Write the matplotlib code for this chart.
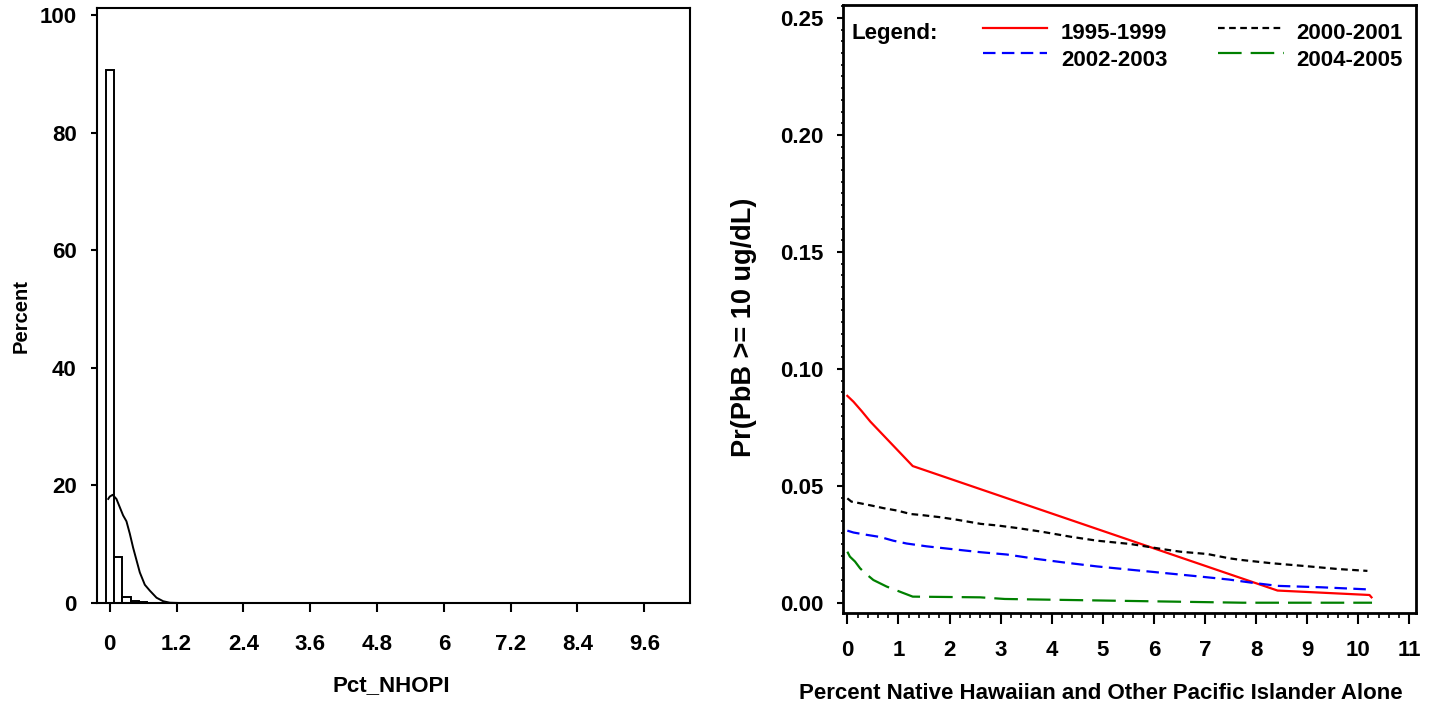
import matplotlib.pyplot as plt
from matplotlib.lines import Line2D
from matplotlib.ticker import MultipleLocator

plt.rcParams['font.family'] = ['Liberation Sans', 'DejaVu Sans']
plt.rcParams['font.weight'] = 'bold'
plt.rcParams['axes.labelweight'] = 'bold'
plt.rcParams['lines.scale_dashes'] = False

# histogram of Pct_NHOPI (bin midpoints, percent of tracts)
bin_mid = [0.0, 0.15, 0.30, 0.45, 0.60, 0.75, 10.2]
bin_pct = [90.6, 7.8, 1.0, 0.35, 0.12, 0.05, 0.05]
bin_width = 0.15

# kernel density overlay
dens_x = [-0.027, 0.0, 0.052, 0.12, 0.18, 0.24, 0.30, 0.36, 0.42, 0.48,
          0.54, 0.63, 0.72, 0.84, 0.96, 1.08, 1.26, 10.3]
dens_y = [17.7, 18.1, 18.4, 17.7, 16.3, 14.9, 13.9, 11.8, 9.4, 7.3,
          5.2, 3.1, 2.1, 0.9, 0.3, 0.05, 0.0, 0.0]

hist_xticks = [0, 1.2, 2.4, 3.6, 4.8, 6, 7.2, 8.4, 9.6]
hist_xlabels = ['0', '1.2', '2.4', '3.6', '4.8', '6', '7.2', '8.4', '9.6']
hist_yticks = [0, 20, 40, 60, 80, 100]

# predicted Pr(PbB >= 10) by period
p9599_x = [0.0, 0.12, 0.28, 0.45, 1.28, 8.42, 10.22, 10.26]
p9599_y = [0.0885, 0.086, 0.082, 0.0775, 0.0585, 0.0053, 0.0034, 0.0024]

p0001_x = [0.0, 0.08, 0.25, 0.5, 0.71, 0.97, 1.24, 1.44, 1.83, 2.16, 2.61,
           2.94, 3.33, 3.79, 4.37, 4.89, 5.54, 6.2, 6.52, 7.05, 7.47, 7.7,
           8.29, 8.94, 9.6, 10.18]
p0001_y = [0.0447, 0.0433, 0.0426, 0.0415, 0.0405, 0.0395, 0.038, 0.0376,
           0.0366, 0.0355, 0.0338, 0.0331, 0.032, 0.0305, 0.0283, 0.0266,
           0.0252, 0.0229, 0.0219, 0.0209, 0.0191, 0.0184, 0.017, 0.0158,
           0.0145, 0.0137]

p0203_x = [0.0, 0.12, 0.38, 0.64, 0.9, 1.16, 1.55, 2.01, 2.6, 3.12, 3.71,
           4.24, 4.89, 5.54, 6.2, 6.85, 7.47, 7.9, 8.42, 9.27, 10.18]
p0203_y = [0.0309, 0.0301, 0.0291, 0.0282, 0.0266, 0.0254, 0.0242, 0.0231,
           0.0217, 0.0207, 0.0188, 0.0173, 0.0156, 0.0142, 0.0128, 0.0114,
           0.0100, 0.0087, 0.0073, 0.0067, 0.0058]

p0405_x = [0.0, 0.05, 0.15, 0.25, 0.35, 0.51, 0.77, 1.03, 1.28, 2.6, 3.08,
           5.39, 7.74, 10.27]
p0405_y = [0.0219, 0.0198, 0.0177, 0.0148, 0.0127, 0.0098, 0.007, 0.0048,
           0.0027, 0.0024, 0.0017, 0.0009, 0.0001, 0.0001]

periods = ['1995-1999', '2000-2001', '2002-2003', '2004-2005']
colors = ['red', 'black', 'blue', 'green']
dash_styles = [None, (4.8, 3.2), (9.0, 4.6), (17, 6.5)]

prob_xticks = list(range(0, 12))
prob_yticks = [0.0, 0.05, 0.10, 0.15, 0.20, 0.25]

fs = 16

fig = plt.figure(figsize=(14.32, 7.10), dpi=100)

# ---- left: histogram ----
ax1 = fig.add_axes([0.0675, 0.1507, 0.4143, 0.838])
ax1.bar(bin_mid, bin_pct, width=bin_width, facecolor='white',
        edgecolor='black', linewidth=1.4)
ax1.plot(dens_x, dens_y, color='black', linewidth=1.4)
ax1.set_xlim(-0.235, 10.42)
ax1.set_ylim(0, 101.2)
ax1.set_xticks(hist_xticks)
ax1.set_xticklabels(hist_xlabels)
ax1.set_yticks(hist_yticks)
ax1.tick_params(axis='x', length=6.5, width=1.5, pad=15.5, labelsize=fs)
ax1.tick_params(axis='y', length=4.3, width=1.5, pad=10, labelsize=fs)
for s in ax1.spines.values():
    s.set_linewidth(1.5)
ax1.set_xlabel('Pct_NHOPI', fontsize=fs)
ax1.set_ylabel('Percent', fontsize=14.5)
ax1.xaxis.set_label_coords(0.496, -0.1216)
ax1.yaxis.set_label_coords(-0.111, 0.482)

# ---- right: predicted probabilities ----
ax2 = fig.add_axes([0.5885, 0.1366, 0.4003, 0.8563])
series = [(p9599_x, p9599_y), (p0001_x, p0001_y),
          (p0203_x, p0203_y), (p0405_x, p0405_y)]
for (xs, ys), c, d in zip(series, colors, dash_styles):
    if d is None:
        ax2.plot(xs, ys, color=c, linewidth=1.6)
    else:
        ax2.plot(xs, ys, color=c, linewidth=1.6, dashes=d)
ax2.set_xlim(-0.09, 11.13)
ax2.set_ylim(-0.0043, 0.2555)
ax2.set_xticks(prob_xticks)
ax2.set_yticks(prob_yticks)
ax2.set_yticklabels(['%.2f' % v for v in prob_yticks])
ax2.xaxis.set_minor_locator(MultipleLocator(0.2))
ax2.yaxis.set_minor_locator(MultipleLocator(0.005))
ax2.tick_params(axis='x', which='major', length=8, width=1.5, pad=11.5,
                labelsize=fs)
ax2.tick_params(axis='y', which='major', length=4, width=1.5, pad=10,
                labelsize=fs)
ax2.tick_params(axis='x', which='minor', length=3.6, width=1.2)
ax2.tick_params(axis='y', which='minor', length=1.5, width=1.2)
for s in ax2.spines.values():
    s.set_linewidth(2)
ax2.set_xlabel('Percent Native Hawaiian and Other Pacific Islander Alone',
               fontsize=fs)
ax2.set_ylabel('Pr(PbB >= 10 ug/dL)', fontsize=19.5)
ax2.xaxis.set_label_coords(0.45, -0.1157)
ax2.yaxis.set_label_coords(-0.149, 0.47)

# legend block drawn in axes fraction
ax2.text(0.0145, 0.9434, 'Legend:', transform=ax2.transAxes, fontsize=fs,
         va='baseline', ha='left')
leg_x = [(0.2448, 0.3565, 0.3804), (0.6555, 0.7694, 0.7907),
         (0.2448, 0.3565, 0.3804), (0.6555, 0.7694, 0.7907)]
leg_line_y = [0.963, 0.963, 0.9206, 0.9206]
leg_text_y = [0.9434, 0.9434, 0.8997, 0.8997]
for i in range(4):
    x0, x1, xt = leg_x[i]
    kw = dict(color=colors[i], linewidth=1.6, transform=ax2.transAxes)
    if dash_styles[i] is not None:
        kw['dashes'] = dash_styles[i]
    ax2.add_line(Line2D([x0, x1], [leg_line_y[i]] * 2, **kw))
    ax2.text(xt, leg_text_y[i], periods[i], transform=ax2.transAxes,
             fontsize=fs, va='baseline', ha='left')

fig.savefig('out.png', dpi=100)
